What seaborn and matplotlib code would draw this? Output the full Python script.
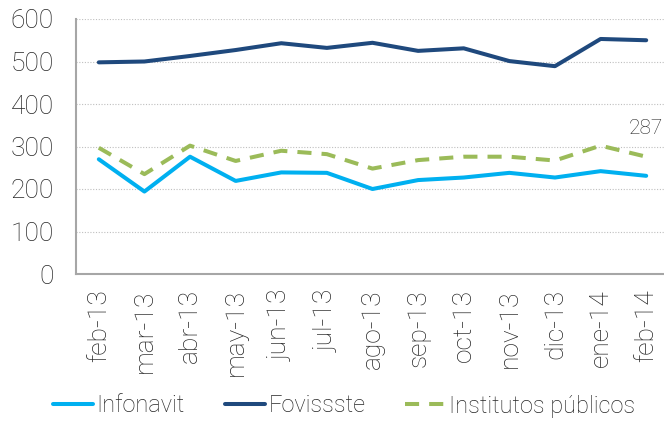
import matplotlib
matplotlib.use("Agg")
import matplotlib.pyplot as plt
import seaborn as sns
import numpy as np

sns.set_style("white")
plt.rcParams['font.family'] = ['Roboto', 'DejaVu Sans']
plt.rcParams['font.weight'] = 'light'

meses = ['feb-13', 'mar-13', 'abr-13', 'may-13', 'jun-13', 'jul-13', 'ago-13',
         'sep-13', 'oct-13', 'nov-13', 'dic-13', 'ene-14', 'feb-14']
infonavit = [270, 194, 276, 219, 239, 238, 200, 221, 227, 238, 227, 242, 231]
fovissste = [498, 500, 513, 527, 543, 532, 544, 525, 531, 501, 489, 553, 550]
institutos = [297, 235, 302, 266, 290, 282, 248, 268, 276, 276, 267, 302, 276]
etiqueta_final = '287'

fig = plt.figure(figsize=(6.64, 4.26), dpi=100)
ax = fig.add_axes([76/664, (426-274)/426, (669-76)/664, (274-19)/426])

x = np.arange(len(meses))
sns.lineplot(x=x, y=infonavit, color='#00b0f0', lw=2.9, label='Infonavit', ax=ax)
sns.lineplot(x=x, y=fovissste, color='#1f497d', lw=2.9, label='Fovissste', ax=ax)
sns.lineplot(x=x, y=institutos, color='#9bbb59', lw=2.9, label='Institutos públicos', ax=ax)
ax.lines[-1].set_dashes((3.5, 2.5))

ax.text(x[-1], 320, etiqueta_final, ha='center', va='bottom',
        fontsize=15, color='#262626')

ax.set_ylim(0, 600)
ax.set_xlim(-0.5, len(meses) - 0.5)
ax.set_yticks(range(0, 601, 100))
ax.tick_params(axis='y', labelsize=19, colors='#262626', length=6, color='#a6a6a6',
               width=1.2, pad=10)
ax.yaxis.grid(True, color='#bfbfbf', ls=(0, (1, 1.5)), lw=0.8)

ax.set_xticks(np.arange(len(meses) + 1) - 0.5)
ax.set_xticklabels([])
ax.set_xticks(x, minor=True)
ax.set_xticklabels(meses, minor=True, rotation=90, fontsize=19, color='#262626')
ax.tick_params(axis='x', which='major', length=6.5, width=1.2, color='#a6a6a6', direction='out')
ax.tick_params(axis='x', which='minor', length=0, pad=11)

for s in ['top', 'right']:
    ax.spines[s].set_visible(False)
for s in ['left', 'bottom']:
    ax.spines[s].set_color('#a6a6a6')
    ax.spines[s].set_linewidth(1.5)

leg = fig.legend(handles=ax.lines[:3], labels=['Infonavit', 'Fovissste', 'Institutos públicos'],
                 loc='center', bbox_to_anchor=(0.518, 1 - 406/426), ncol=3, frameon=False,
                 fontsize=17, handlelength=1.7, handletextpad=0.15, columnspacing=1.7)
ax.get_legend().remove()
for t in leg.get_texts():
    t.set_color('#262626')

fig.savefig('out.png', dpi=100)
